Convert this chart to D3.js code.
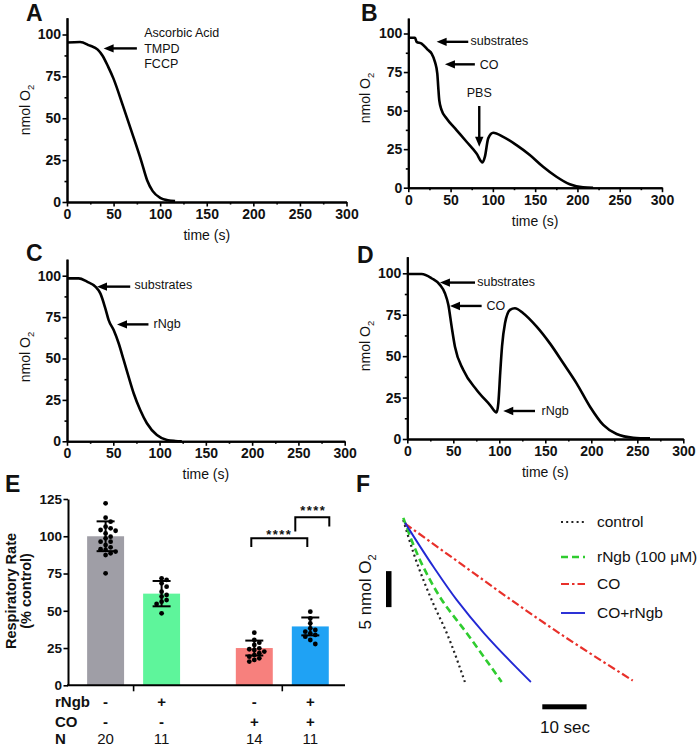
<!DOCTYPE html>
<html><head><meta charset="utf-8">
<script src="https://cdn.jsdelivr.net/npm/d3@7/dist/d3.min.js"></script>
<style>
body{margin:0;background:#fff}
svg{display:block}
text{font-family:"Liberation Sans",Arial,Helvetica,sans-serif;fill:#111}
</style>
</head><body>
<svg id="c" width="700" height="749"></svg>
<script>
// ---------------- DATA ----------------
const traceXTicks = [0, 50, 100, 150, 200, 250, 300];
const traceXMinor = [25, 75, 125, 175, 225, 275];
const traceYTicks = [0, 25, 50, 75, 100];
const traceYMinor = [12.5, 37.5, 62.5, 87.5];

// Panel A
const aTime = [0, 14, 24, 33, 38, 44, 50, 60, 70, 80, 86, 92, 100, 108, 116];
const aO2   = [95.2, 95.5, 93.5, 91, 87.5, 81, 73.5, 57.5, 41, 24, 13, 6.5, 2.5, 1, 0.5];
// Panel B
const bTime = [0, 8, 9.8, 15.7, 23.6, 27.6, 31.5, 34.3, 35.4, 36.6, 39.4, 45.3, 57, 68.9, 80.7, 87.8, 90.6, 94.5, 100.4, 112.2, 128, 143.7, 159.4, 175.2, 190.9, 206.7, 218.5];
const bO2   = [97.2, 97.2, 94.6, 93.5, 89.2, 87, 81.6, 74, 65.4, 56.8, 50.3, 44.9, 37.4, 29.8, 22.2, 16.4, 20.1, 32, 35.6, 33, 27.6, 21.2, 13.6, 7.1, 2.2, 0.2, 0];
// Panel C
const cTime = [0, 12.6, 21.6, 30.6, 36, 41.4, 45, 50.4, 55.8, 61.2, 66.5, 72, 79.1, 86.3, 97.1, 108, 117, 124];
const cO2   = [98.4, 98.4, 96.4, 93.4, 89.3, 80.3, 73.2, 67.2, 59.2, 49.1, 39, 29, 18.9, 10.9, 3.8, 0.8, 0.2, 0];
// Panel D
const dTime = [0, 15.6, 26.4, 35.5, 40.9, 44.6, 48.2, 51.8, 60.9, 75.4, 89.9, 97, 99, 101, 103, 106.2, 111.6, 117, 126, 140.6, 155, 169.6, 184, 198.6, 213, 227.5, 245.7, 263.8];
const dO2   = [99.6, 99.6, 97, 93, 88, 81, 67.8, 55.7, 41.6, 29.6, 20.5, 16, 22, 40, 56, 69.8, 77.9, 78.9, 75.9, 67.8, 57.7, 45.7, 33.6, 19.5, 8.5, 3, 0.8, 0.4];

// Annotations: [label, tipTime, tipO2, tailTime, tailO2, textTime, textO2]
const aNotes = [["TMPD", 39.3, 91.7, 75, 91.7, 82.9, 91.7]];
const aNoteLines = ["Ascorbic Acid", "TMPD", "FCCP"];
const aNoteLineO2 = [101.2, 91.7, 82.7];
const bNotes = [["substrates", 33.5, 94.6, 70.9, 94.6, 73.6, 95.2], ["CO", 43.3, 80, 78.7, 80, 84.6, 80]];
const bPbs = ["PBS", 83.9, 26.6, 83.9, 53, 83.9, 61.5];
const cNotes = [["substrates", 32.4, 93.4, 68.3, 93.4, 73, 94.5], ["rNgb", 54, 70.6, 88, 70.6, 93.5, 70.8]];
const dNotes = [["substrates", 35.5, 94.4, 73.6, 94.4, 76, 95.2], ["CO", 46.4, 80.3, 80.8, 80.3, 86.2, 80.3], ["rNgb", 104.3, 16.9, 138.8, 16.9, 146, 16.9]];

// Panel E
const eCategories = ["control", "rNgb", "CO", "CO+rNgb"];
const eMeans = [100, 61.5, 25, 39.5];
const eSDs = [10, 8.5, 5, 6];
const eDotsControl = [122.1, 112.5, 109.8, 106.4, 105.3, 104.2, 103.7, 101.9, 99.7, 98.6, 96.4, 96.4, 94.1, 92.6, 91.3, 90.8, 89.7, 88.6, 87.4, 75.1];
const eDotsRngb = [71.8, 70.7, 68.4, 66.2, 62.8, 60.6, 59.5, 57.2, 56.1, 54.6, 48.3];
const eDotsCO = [35.3, 30.4, 28.6, 27.1, 24.8, 24.2, 23.7, 22.6, 21.5, 20.3, 19.2, 18.1, 17, 15.9];
const eDotsCORngb = [49.4, 44.9, 41.6, 38.2, 37.1, 36, 34.9, 33.8, 32.6, 30.4, 27.7];
const eRowRngb = ["-", "+", "-", "+"];
const eRowCO = ["-", "-", "+", "+"];
const eRowN = ["20", "11", "14", "11"];
const eYTicks = [0, 25, 50, 75, 100, 125];

// Panel F (time in s, O2 in nmol relative to start)
const fControlT = [0, 3.4, 6.4, 9.8, 13.9];
const fControlO2 = [0, -6.5, -11.1, -15.7, -22.5];
const fRngbT = [0, 4.5, 8.7, 14.3, 22.2];
const fRngbO2 = [0.3, -6.5, -11.1, -15.7, -22.5];
const fCOT = [0.4, 12.8, 23.3, 34.2, 51.8];
const fCOO2 = [-0.5, -6.0, -10.65, -15.3, -22.3];
const fCORngbT = [0.4, 6.8, 12.05, 18.2, 25.4, 28.8];
const fCORngbO2 = [-0.4, -6.5, -11.1, -15.7, -20.4, -22.5];
const fLegend = ["control", "rNgb (100 \u03bcM)", "CO", "CO+rNgb"];

// ---------------- DRAWING ----------------
const svg = d3.select("#c");

function arrowPath(g, x1, y1, x2, y2) {
  const dx = x2 - x1, dy = y2 - y1, L = Math.hypot(dx, dy);
  const ux = dx / L, uy = dy / L, hl = 10, hw = 4.2;
  const bx = x2 - ux * hl, by = y2 - uy * hl;
  g.append("line").attr("x1", x1).attr("y1", y1).attr("x2", bx + ux).attr("y2", by + uy)
    .attr("stroke", "#000").attr("stroke-width", 2.4);
  g.append("path").attr("d", `M${x2},${y2}L${bx - uy * hw},${by + ux * hw}L${bx + uy * hw},${by - ux * hw}Z`)
    .attr("fill", "#000");
}

function styleAxis(sel, fs) {
  sel.select(".domain").attr("stroke", "#000").attr("stroke-width", 2);
  sel.selectAll(".tick line").attr("stroke", "#000").attr("stroke-width", 1.6);
  sel.selectAll(".tick text").attr("font-size", fs || 14).attr("font-weight", "bold").attr("fill", "#111");
}

function tracePanel(p) {
  const g = svg.append("g");
  const x = d3.scaleLinear().domain([0, 300]).range([p.x0, p.x1]);
  const y = d3.scaleLinear().domain([0, 100]).range([p.yb, p.yt]);
  const yAxisScale = d3.scaleLinear().domain([0, 110]).range([p.yb, y(110)]);

  g.append("g").attr("transform", `translate(${p.x0},0)`)
    .call(d3.axisLeft(yAxisScale).tickValues(traceYMinor).tickSize(2.5).tickSizeOuter(0).tickFormat(""))
    .call(styleAxis);
  g.append("g").attr("transform", `translate(0,${p.yb})`)
    .call(d3.axisBottom(x).tickValues(traceXMinor).tickSize(2.5).tickSizeOuter(0).tickFormat(""))
    .call(styleAxis);
  g.append("g").attr("transform", `translate(${p.x0},0)`)
    .call(d3.axisLeft(yAxisScale).tickValues(traceYTicks).tickSize(4.5).tickPadding(1.5).tickSizeOuter(0))
    .call(styleAxis);
  g.append("g").attr("transform", `translate(0,${p.yb})`)
    .call(d3.axisBottom(x).tickValues(traceXTicks).tickSize(4.5).tickPadding(2.5).tickSizeOuter(0))
    .call(styleAxis);

  const line = d3.line().x((d, i) => x(p.time[i])).y((d) => y(d)).curve(d3.curveMonotoneX);
  g.append("path").attr("d", line(p.o2)).attr("fill", "none").attr("stroke", "#000")
    .attr("stroke-width", 2.6).attr("stroke-linejoin", "round");

  g.append("text").attr("x", (p.x0 + p.x1) / 2).attr("y", p.yb + 38).attr("text-anchor", "middle")
    .attr("font-size", 14).text("time (s)");
  const yt = g.append("text").attr("transform", `translate(${p.ytx},${p.yty}) rotate(-90)`)
    .attr("text-anchor", "middle").attr("font-size", 14);
  yt.append("tspan").text("nmol O");
  yt.append("tspan").attr("font-size", 9.5).attr("dy", 4).text("2");

  g.append("text").attr("x", p.lx).attr("y", p.ly).attr("font-size", 23).attr("font-weight", "bold").text(p.letter);

  (p.notes || []).forEach(n => {
    arrowPath(g, x(n[3]), y(n[4]), x(n[1]), y(n[2]));
    g.append("text").attr("x", x(n[5])).attr("y", y(n[6])).attr("dy", "0.35em")
      .attr("font-size", 12.5).text(n[0]);
  });
  return {g, x, y};
}

const A = tracePanel({x0: 67, x1: 346.5, yb: 202, yt: 34.5, time: aTime, o2: aO2,
  ytx: 30, yty: 110, letter: "A", lx: 26, ly: 21, notes: []});
aNotes.forEach(n => arrowPath(A.g, A.x(n[3]), A.y(n[4]), A.x(n[1]), A.y(n[2])));
aNoteLines.forEach((t, i) => {
  A.g.append("text").attr("x", A.x(aNotes[0][5])).attr("y", A.y(aNoteLineO2[i])).attr("dy", "0.35em")
    .attr("font-size", 12.5).text(t);
});

const B = tracePanel({x0: 408.3, x1: 662, yb: 187.7, yt: 33.5, time: bTime, o2: bO2,
  ytx: 370, yty: 98, letter: "B", lx: 361, ly: 21, notes: bNotes});
arrowPath(B.g, B.x(bPbs[3]), B.y(bPbs[4]), B.x(bPbs[1]), B.y(bPbs[2]));
B.g.append("text").attr("x", B.x(bPbs[5])).attr("y", B.y(bPbs[6])).attr("dy", "0.35em")
  .attr("text-anchor", "middle").attr("font-size", 12.5).text(bPbs[0]);

tracePanel({x0: 67, x1: 344.7, yb: 441.3, yt: 275.7, time: cTime, o2: cO2,
  ytx: 30, yty: 357, letter: "C", lx: 26, ly: 261, notes: cNotes});

tracePanel({x0: 407.3, x1: 683.3, yb: 439, yt: 273.3, time: dTime, o2: dO2,
  ytx: 370, yty: 346, letter: "D", lx: 357, ly: 263, notes: dNotes});

// ---------------- Panel E ----------------
(function () {
  const g = svg.append("g");
  const barColors = ["#9f9ea6", "#5ef59b", "#f7807d", "#1fa2f4"];
  const dotsets = [eDotsControl, eDotsRngb, eDotsCO, eDotsCORngb];
  const y = d3.scaleLinear().domain([0, 125]).range([685.3, 499]);
  const outer = d3.scalePoint().domain(["-", "+"]).range([133.6, 282.3]);
  const inner = d3.scaleBand().domain(["-", "+"]).range([-56, 56]).paddingInner(0.34).paddingOuter(0.17);
  const bw = inner.bandwidth();
  const cx = i => outer(eRowCO[i]) + inner(eRowRngb[i]) + bw / 2;

  g.selectAll("rect.bar").data(eMeans).enter().append("rect")
    .attr("x", (d, i) => cx(i) - bw / 2).attr("width", bw)
    .attr("y", d => y(d)).attr("height", d => y(0) - y(d))
    .attr("fill", (d, i) => barColors[i]);

  eMeans.forEach((m, i) => {
    const s = eSDs[i], c = cx(i);
    g.append("line").attr("x1", c).attr("x2", c).attr("y1", y(m - s)).attr("y2", y(m + s))
      .attr("stroke", "#000").attr("stroke-width", 2);
    [m - s, m + s].forEach(v => g.append("line").attr("x1", c - 9).attr("x2", c + 9)
      .attr("y1", y(v)).attr("y2", y(v)).attr("stroke", "#000").attr("stroke-width", 2));
  });

  const cands = [0, 5, -5, 10, -10, 14, -14, 18, -18];
  dotsets.forEach((vals, i) => {
    const placed = [];
    vals.forEach(v => {
      const py = y(v);
      let off = 0;
      for (const c of cands) {
        const ok = placed.every(p => {
          const dy = Math.abs(p.y - py);
          if (dy >= 4.8) return true;
          return Math.abs(p.x - c) >= Math.sqrt(4.8 * 4.8 - dy * dy);
        });
        if (ok) { off = c; break; }
      }
      placed.push({x: off, y: py});
      g.append("circle").attr("cx", cx(i) + off).attr("cy", py).attr("r", 2.4).attr("fill", "#000");
    });
  });

  const ya = g.append("g").attr("transform", "translate(68,0)")
    .call(d3.axisLeft(y).tickValues(eYTicks).tickSize(4.5).tickPadding(1.5).tickSizeOuter(0));
  styleAxis(ya, 13.5);
  g.append("line").attr("x1", 67).attr("x2", 345).attr("y1", y(0)).attr("y2", y(0))
    .attr("stroke", "#000").attr("stroke-width", 2);
  outer.domain().forEach(k => g.append("line").attr("x1", outer(k)).attr("x2", outer(k))
    .attr("y1", y(0)).attr("y2", y(0) + 6).attr("stroke", "#000").attr("stroke-width", 1.6));

  const yt = g.append("text").attr("transform", "translate(16,591) rotate(-90)")
    .attr("text-anchor", "middle").attr("font-size", 14.5).attr("font-weight", "bold");
  yt.append("tspan").attr("x", 0).attr("dy", 0).text("Respiratory Rate");
  yt.append("tspan").attr("x", 0).attr("dy", 15).text("(% control)");

  const i2 = 2, i3 = 3;
  const b1 = [cx(i2) - 3, cx(i3) - 3], b1y = y(98.7), b1l = y(92.8);
  g.append("path").attr("d", `M${b1[0]},${b1l}V${b1y}H${b1[1]}V${b1l}`)
    .attr("fill", "none").attr("stroke", "#000").attr("stroke-width", 2);
  g.append("text").attr("x", (b1[0] + b1[1]) / 2).attr("y", b1y + 1).attr("text-anchor", "middle")
    .attr("font-size", 13).attr("font-weight", "bold").attr("letter-spacing", 1.5).text("****");
  const b2 = [cx(i3) - 15, cx(i3) + 19], b2y = y(112.8);
  g.append("path").attr("d", `M${b2[0]},${y(103.2)}V${b2y}H${b2[1]}V${y(106.5)}`)
    .attr("fill", "none").attr("stroke", "#000").attr("stroke-width", 2);
  g.append("text").attr("x", (b2[0] + b2[1]) / 2 + 1).attr("y", b2y - 2.5).attr("text-anchor", "middle")
    .attr("font-size", 13).attr("font-weight", "bold").attr("letter-spacing", 1.5).text("****");

  const rows = [["rNgb", eRowRngb, 707, "bold"], ["CO", eRowCO, 727, "bold"], ["N", eRowN, 744, "normal"]];
  rows.forEach(r => {
    g.append("text").attr("x", 55).attr("y", r[2]).attr("font-size", 15).attr("font-weight", "bold").text(r[0]);
    r[1].forEach((v, i) => g.append("text").attr("x", cx(i)).attr("y", r[2]).attr("text-anchor", "middle")
      .attr("font-size", 15).attr("font-weight", r[3]).text(v));
  });

  g.append("text").attr("x", 5).attr("y", 492).attr("font-size", 23).attr("font-weight", "bold").text("E");
})();

// ---------------- Panel F ----------------
(function () {
  const g = svg.append("g");
  const x = d3.scaleLinear().domain([0, 10]).range([403.3, 447.6]);
  const y = d3.scaleLinear().domain([0, -5]).range([520, 556]);
  const series = [
    {t: fControlT, v: fControlO2, color: "#222", dash: "2,3.2", w: 2.2},
    {t: fRngbT, v: fRngbO2, color: "#2fcc2f", dash: "7,4", w: 2.6},
    {t: fCOT, v: fCOO2, color: "#e8302a", dash: "8,3,2.5,3", w: 2.2},
    {t: fCORngbT, v: fCORngbO2, color: "#2228d4", dash: null, w: 1.9}
  ];
  series.forEach(s => {
    const line = d3.line().x((d, i) => x(s.t[i])).y(d => y(d)).curve(d3.curveMonotoneY);
    g.append("path").attr("d", line(s.v)).attr("fill", "none").attr("stroke", s.color)
      .attr("stroke-width", s.w).attr("stroke-dasharray", s.dash);
  });
  const ly = [522, 557, 584, 613];
  series.forEach((s, i) => {
    g.append("line").attr("x1", 561).attr("x2", 585).attr("y1", ly[i]).attr("y2", ly[i])
      .attr("stroke", s.color).attr("stroke-width", s.w).attr("stroke-dasharray", s.dash);
    g.append("text").attr("x", 597).attr("y", ly[i]).attr("dy", "0.35em").attr("font-size", 15.5).text(fLegend[i]);
  });
  g.append("rect").attr("x", 386).attr("y", y(-7.1)).attr("width", 5.5).attr("height", y(-5) - y(0)).attr("fill", "#000");
  g.append("rect").attr("x", 542.3).attr("y", 704.3).attr("width", x(10) - x(0)).attr("height", 5).attr("fill", "#000");
  g.append("text").attr("x", 565).attr("y", 733).attr("text-anchor", "middle").attr("font-size", 17).text("10 sec");
  const t = g.append("text").attr("transform", "translate(371,592) rotate(-90)")
    .attr("text-anchor", "middle").attr("font-size", 17);
  t.append("tspan").text("5 nmol O");
  t.append("tspan").attr("font-size", 11).attr("dy", 5).text("2");
  g.append("text").attr("x", 356).attr("y", 492).attr("font-size", 23).attr("font-weight", "bold").text("F");
})();
</script>
</body></html>
